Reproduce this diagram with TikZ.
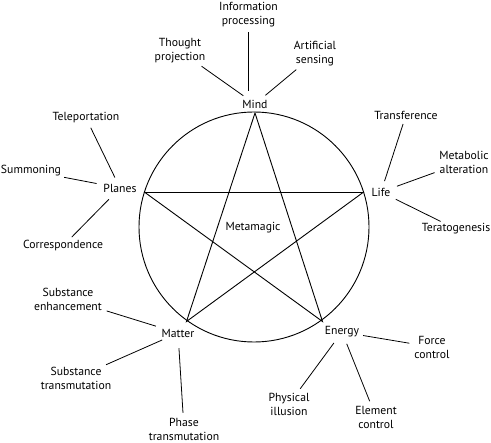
\documentclass[tikz,border=0pt]{standalone}
\usepackage{fontspec}
\setmainfont{PT Sans}
\begin{document}
\begin{tikzpicture}[x=1pt,y=-1pt,
  lbl/.style={font=\fontsize{11.7}{14}\selectfont, align=center, inner sep=0pt, outer sep=0pt},
  conn/.style={line width=0.8pt, black, shorten <=7pt, shorten >=5pt},
  star/.style={line width=0.9pt, black}]
\useasboundingbox (0,0) rectangle (491,443);
% pentagram
\coordinate (c) at (254,227);
\coordinate (vmind) at (255,113);
\coordinate (vlife) at (363,192.5);
\coordinate (venergy) at (322.5,321.5);
\coordinate (vmatter) at (186.5,321.5);
\coordinate (vplanes) at (145,192.5);
\draw[star] (c) circle[radius=115];
\draw[star, line join=miter] (vmind) -- (venergy) -- (vplanes) -- (vlife) -- (vmatter) -- cycle;
% element labels
\node[lbl] (mind) at (255,104) {Mind};
\node[lbl] (life) at (381,192) {Life};
\node[lbl] (planes) at (120,188) {Planes};
\node[lbl] (matter) at (178,333) {Matter};
\node[lbl] (energy) at (342,332) {Energy};
\node[lbl] (meta) at (253,228) {Metamagic};
% outer labels
\node[lbl] (info) at (248.5,15) {Information\\processing};
\node[lbl] (thought) at (180,51) {Thought\\projection};
\node[lbl] (artif) at (315,54) {Artificial\\sensing};
\node[lbl] (telep) at (86,118) {Teleportation};
\node[lbl] (summ) at (31,171) {Summoning};
\node[lbl] (corr) at (63,246) {Correspondence};
\node[lbl] (transf) at (406,115) {Transference};
\node[lbl] (metab) at (464,162) {Metabolic\\alteration};
\node[lbl] (terat) at (456,229) {Teratogenesis};
\node[lbl] (subenh) at (68,299) {Substance\\enhancement};
\node[lbl] (subtr) at (76,378) {Substance\\transmutation};
\node[lbl] (phase) at (184,429) {Phase\\transmutation};
\node[lbl] (force) at (432,347) {Force\\control};
\node[lbl] (phys) at (289,404) {Physical\\illusion};
\node[lbl] (elem) at (376,417) {Element\\control};
% connectors
\draw[conn, shorten <=9pt] (mind.north -| info.south) -- (info.south);
\draw[conn] (mind) -- (thought);
\draw[conn] (mind) -- (artif);
\draw[conn] (planes) -- (telep);
\draw[conn] (planes) -- (summ);
\draw[conn, shorten <=10pt] (planes) -- (corr);
\draw[conn] (life) -- (transf);
\draw[conn] (life) -- (metab);
\draw[conn] (life) -- (terat);
\draw[conn, shorten <=9pt] (matter) -- (subenh);
\draw[conn] (matter) -- (subtr);
\draw[conn, shorten <=11pt] (matter) -- (phase);
\draw[conn, shorten <=4pt] (energy) -- (force);
\draw[conn] (energy) -- (phys);
\draw[conn] (energy) -- (elem);
\end{tikzpicture}
\end{document}
